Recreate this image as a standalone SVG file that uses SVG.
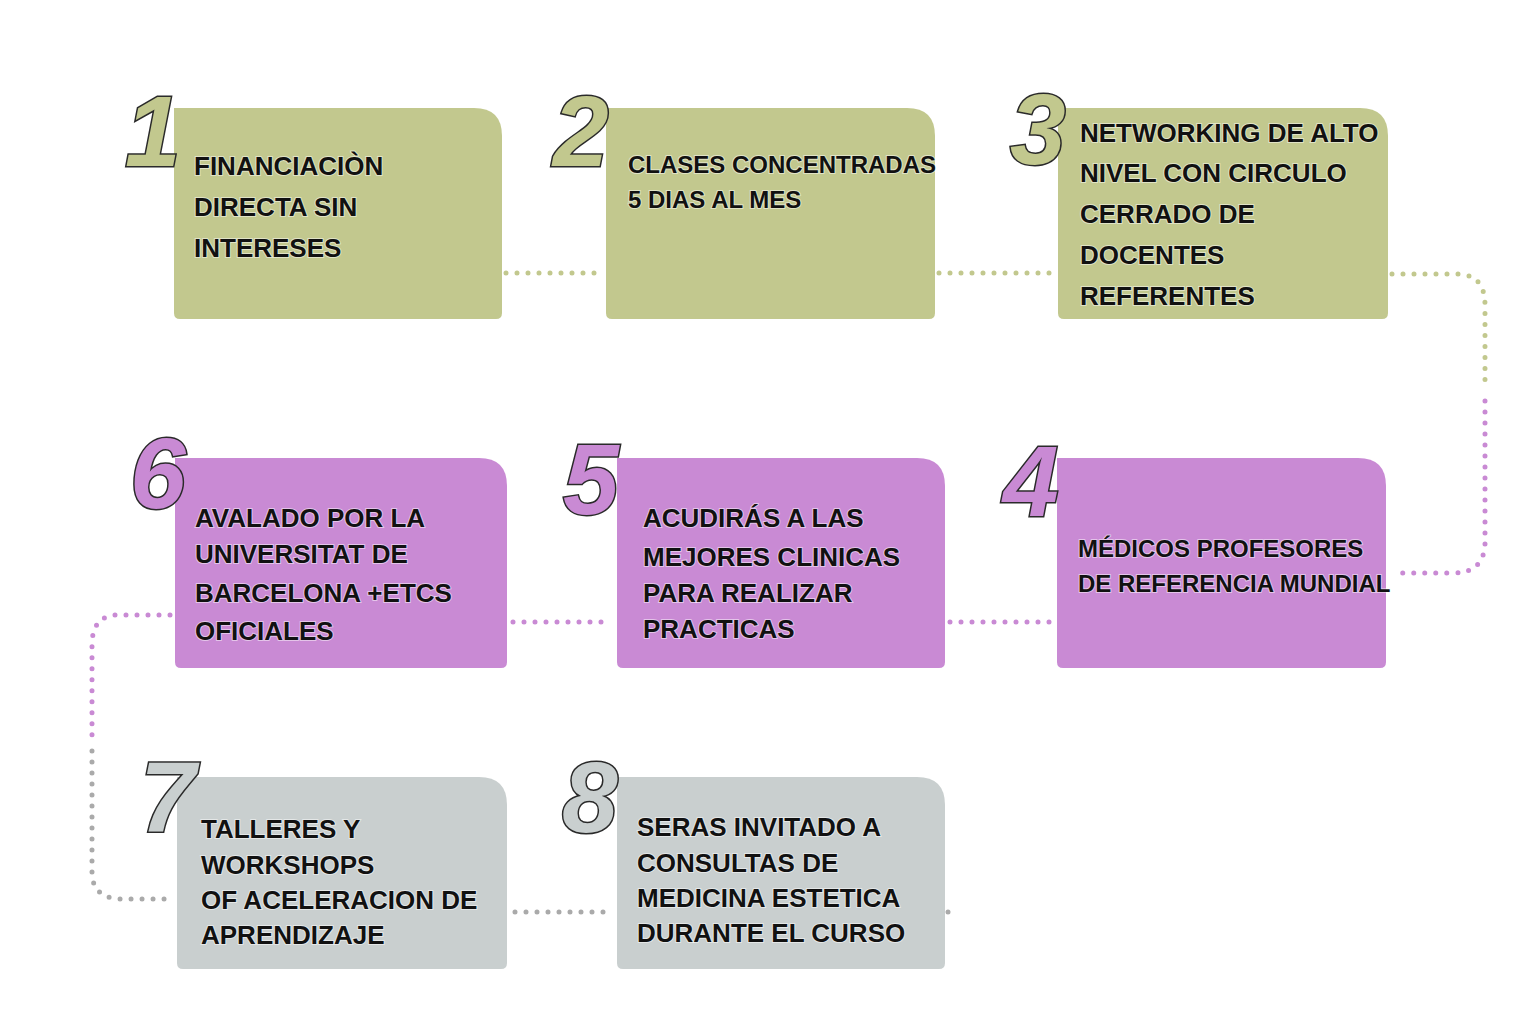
<svg xmlns="http://www.w3.org/2000/svg" width="1536" height="1024" viewBox="0 0 1536 1024">
<style>
.g{fill:#c2c88e}.p{fill:#c98ad4}.s{fill:#c9cfcf}
.t{font-family:"Liberation Sans",Arial,sans-serif;font-weight:bold;font-size:26px;fill:#111;stroke:#fff;stroke-opacity:.5;stroke-width:2;paint-order:stroke}
.n{font-family:"Liberation Sans",Arial,sans-serif;font-weight:bold;font-style:italic;font-size:100px;stroke:#2a2a2a;stroke-width:3;paint-order:stroke}
.c{fill:none;stroke-width:5;stroke-linecap:round;stroke-dasharray:0 11}
</style>
<rect width="1536" height="1024" fill="#fff"/>
<g id="connectors">
<path class="c" stroke="#c2c88e" d="M506 273H600"/>
<path class="c" stroke="#c2c88e" d="M939 273H1055"/>
<path class="c" stroke="#c2c88e" d="M1392 274H1460Q1485 276 1485 305V390"/>
<path class="c" stroke="#c98ad4" d="M1485 401V545Q1483 572 1455 573H1392"/>
<path class="c" stroke="#c98ad4" d="M950 622H1054"/>
<path class="c" stroke="#c98ad4" d="M513 622H612"/>
<path class="c" stroke="#c98ad4" d="M170 615H115Q92 617 92 645V740"/>
<path class="c" stroke="#aaaaaa" d="M92 751V875Q94 898 120 899H172"/>
<path class="c" stroke="#aaaaaa" d="M515 912H610"/>
<path class="c" stroke="#aaaaaa" d="M948 912H949"/>
</g>
<g id="n1"><path class="g" d="M174 108H474Q502 108 502 136V313Q502 319 496 319H180Q174 319 174 313Z"/>
<text class="n g" x="125" y="166">1</text>
<text class="t"><tspan x="194" y="175">FINANCIACIÒN</tspan><tspan x="194" y="216">DIRECTA SIN</tspan><tspan x="194" y="257">INTERESES</tspan></text></g>
<g id="n2"><path class="g" d="M606 108H907Q935 108 935 136V313Q935 319 929 319H612Q606 319 606 313Z"/>
<text class="n g" x="553" y="166">2</text>
<text class="t" style="font-size:24px"><tspan x="628" y="173">CLASES CONCENTRADAS</tspan><tspan x="628" y="208">5 DIAS AL MES</tspan></text></g>
<g id="n3"><path class="g" d="M1058 108H1360Q1388 108 1388 136V313Q1388 319 1382 319H1064Q1058 319 1058 313Z"/>
<text class="n g" x="1010" y="164">3</text>
<text class="t"><tspan x="1080" y="142">NETWORKING DE ALTO</tspan><tspan x="1080" y="182">NIVEL CON CIRCULO</tspan><tspan x="1080" y="223">CERRADO DE</tspan><tspan x="1080" y="264">DOCENTES</tspan><tspan x="1080" y="305">REFERENTES</tspan></text></g>
<g id="n4"><path class="p" d="M1057 458H1358Q1386 458 1386 486V662Q1386 668 1380 668H1063Q1057 668 1057 662Z"/>
<text class="n p" x="1003" y="516">4</text>
<text class="t" style="font-size:24px"><tspan x="1078" y="557">MÉDICOS PROFESORES</tspan><tspan x="1078" y="592">DE REFERENCIA MUNDIAL</tspan></text></g>
<g id="n5"><path class="p" d="M617 458H917Q945 458 945 486V662Q945 668 939 668H623Q617 668 617 662Z"/>
<text class="n p" x="563" y="514">5</text>
<text class="t"><tspan x="643" y="527">ACUDIRÁS A LAS</tspan><tspan x="643" y="566">MEJORES CLINICAS</tspan><tspan x="643" y="602">PARA REALIZAR</tspan><tspan x="643" y="638">PRACTICAS</tspan></text></g>
<g id="n6"><path class="p" d="M175 458H479Q507 458 507 486V662Q507 668 501 668H181Q175 668 175 662Z"/>
<text class="n p" x="130" y="508">6</text>
<text class="t"><tspan x="195" y="527">AVALADO POR LA</tspan><tspan x="195" y="563">UNIVERSITAT DE</tspan><tspan x="195" y="602">BARCELONA +ETCS</tspan><tspan x="195" y="640">OFICIALES</tspan></text></g>
<g id="n7"><path class="s" d="M177 777H479Q507 777 507 805V963Q507 969 501 969H183Q177 969 177 963Z"/>
<text class="n s" x="140" y="832">7</text>
<text class="t"><tspan x="201" y="838">TALLERES Y</tspan><tspan x="201" y="874">WORKSHOPS</tspan><tspan x="201" y="909">OF ACELERACION DE</tspan><tspan x="201" y="944">APRENDIZAJE</tspan></text></g>
<g id="n8"><path class="s" d="M617 777H917Q945 777 945 805V963Q945 969 939 969H623Q617 969 617 963Z"/>
<text class="n s" x="562" y="832">8</text>
<text class="t"><tspan x="637" y="836">SERAS INVITADO A</tspan><tspan x="637" y="872">CONSULTAS DE</tspan><tspan x="637" y="907">MEDICINA ESTETICA</tspan><tspan x="637" y="942">DURANTE EL CURSO</tspan></text></g>
</svg>
